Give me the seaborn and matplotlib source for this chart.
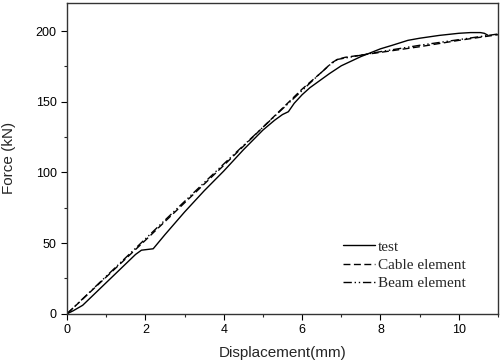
import numpy as np
import pandas as pd
import matplotlib
matplotlib.use("Agg")
import matplotlib.pyplot as plt
import seaborn as sns
from matplotlib.ticker import MultipleLocator

test_x = [0, 0.15, 0.4, 0.7, 1.0, 1.3, 1.6, 1.75, 1.9, 2.05, 2.2, 2.5, 3.0, 3.5, 4.0, 4.5, 5.0, 5.3, 5.5,
          5.65, 5.8, 6.0, 6.2, 6.4, 6.7, 7.0, 7.5, 8.0, 8.3, 8.7, 9.0, 9.5, 10.0, 10.3, 10.55, 10.65, 10.75]
test_y = [0, 2, 6, 14, 22, 30, 38, 42, 45, 45.5, 46, 56, 72, 87, 101, 116, 130, 137, 141,
          143, 149, 155, 160, 164, 170, 175.5, 182, 187.5, 190, 193.5, 195, 197, 198.5, 199, 199, 198.5, 197]
cable_x = [0, 2, 4, 5, 6, 6.5, 6.75, 6.9, 7.1, 8.0, 9.0, 10.0, 11.0]
cable_y = [0, 52, 105, 132, 159, 171, 177.5, 180, 181.5, 185, 189, 193.5, 197.5]
beam_x = [0, 2, 4, 5, 5.5, 6, 6.4, 6.7, 6.9, 7.2, 8.0, 9.0, 10.0, 10.5, 11.0]
beam_y = [0, 53, 106, 132, 145, 158, 168.5, 176, 180, 181.5, 185.5, 190, 194, 196, 198]

names = ["test", "Cable element", "Beam element"]
df = pd.concat([
    pd.DataFrame({"x": test_x, "y": test_y, "s": names[0]}),
    pd.DataFrame({"x": cable_x, "y": cable_y, "s": names[1]}),
    pd.DataFrame({"x": beam_x, "y": beam_y, "s": names[2]}),
], ignore_index=True)

sns.set_style("ticks")
plt.rcParams['font.family'] = ['Liberation Sans', 'DejaVu Sans']

fig = plt.figure(figsize=(5, 3.64), dpi=100)
ax = fig.add_axes([0.134, 0.138, 0.862, 0.854])

sns.lineplot(data=df, x="x", y="y", style="s", hue="s",
             palette={n: "black" for n in names},
             dashes={names[0]: "", names[1]: (5, 2.5), names[2]: (6, 2, 1, 2, 1, 2)},
             sort=False, estimator=None, linewidth=1.0, ax=ax)

ax.set_xlim(0, 11)
ax.set_ylim(0, 220)
ax.xaxis.set_major_locator(MultipleLocator(2))
ax.xaxis.set_minor_locator(MultipleLocator(1))
ax.yaxis.set_major_locator(MultipleLocator(50))
ax.yaxis.set_minor_locator(MultipleLocator(25))
ax.tick_params(which="major", direction="out", length=4, width=0.8, labelsize=9, colors="black")
ax.tick_params(which="minor", direction="out", length=2.5, width=0.8)
for sp in ax.spines.values():
    sp.set_visible(True)
    sp.set_linewidth(1.0)
    sp.set_color("#333333")
ax.set_xlabel("Displacement(mm)", fontsize=11, labelpad=7)
ax.set_ylabel("Force (kN)", fontsize=11, labelpad=14)

leg = ax.legend(loc="upper left", bbox_to_anchor=(0.640, 0.237), frameon=False,
                borderpad=0, borderaxespad=0,
                prop={"family": "Liberation Serif", "size": 11}, handlelength=2.1,
                handletextpad=0.2, labelspacing=0.3)

fig.savefig("out.png", dpi=100)
